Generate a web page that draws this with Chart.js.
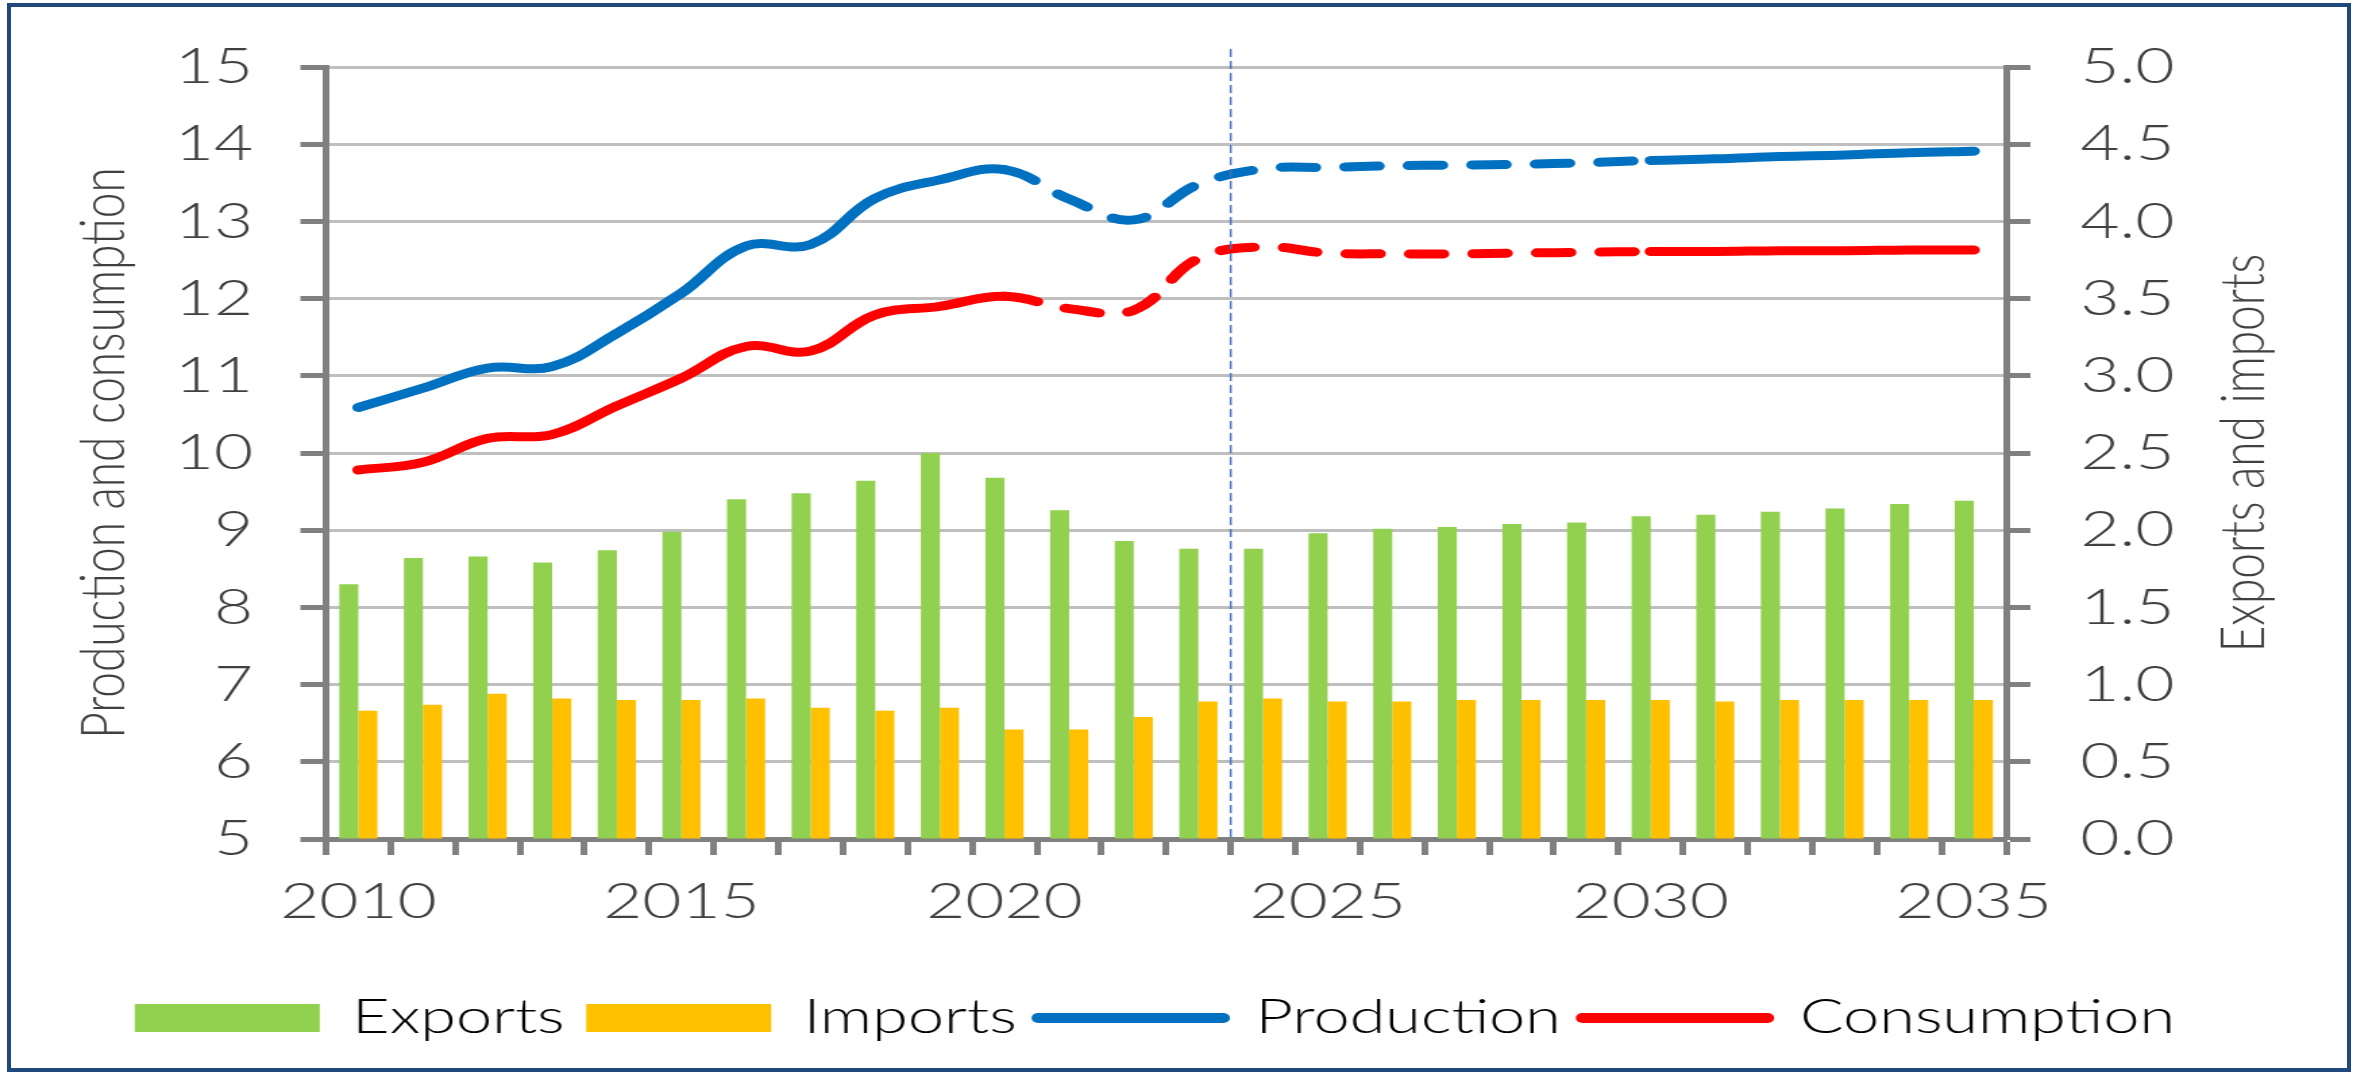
<!DOCTYPE html>
<html>
<head>
<meta charset="utf-8">
<title>Production, consumption, exports and imports</title>
<script src="https://cdn.jsdelivr.net/npm/chart.js@4.4.1/dist/chart.umd.min.js"></script>
<style>
  html, body { margin: 0; padding: 0; background: #fff; }
  body { width: 2361px; height: 1074px; position: relative; overflow: hidden; }
  /* the source picture is stretched sideways, so the chart is too */
  #wrap { position: absolute; left: 0; top: 0; width: 1749px; height: 1074px; transform: scaleX(1.35); transform-origin: 0 0; }
  #frame { position: absolute; left: 7px; top: 3px; width: 2344px; height: 1069px; box-sizing: border-box; border: 4px solid #1F497D; pointer-events: none; }
</style>
</head>
<body>
<div id="wrap"><canvas id="chart" width="1749" height="1074"></canvas></div>
<div id="frame"></div>
<script>
const years = ['2010', '2011', '2012', '2013', '2014', '2015', '2016', '2017', '2018', '2019',
  '2020', '2021', '2022', '2023', '2024', '2025', '2026', '2027', '2028', '2029',
  '2030', '2031', '2032', '2033', '2034', '2035'];

// right axis
const exportsVals = [1.65, 1.82, 1.83, 1.79, 1.87, 1.99, 2.20, 2.24, 2.32, 2.50,
  2.34, 2.13, 1.93, 1.88, 1.88, 1.98, 2.01, 2.02, 2.04, 2.05,
  2.09, 2.10, 2.12, 2.14, 2.17, 2.19];
const importsVals = [0.83, 0.87, 0.94, 0.91, 0.90, 0.90, 0.91, 0.85, 0.83, 0.85,
  0.71, 0.71, 0.79, 0.89, 0.91, 0.89, 0.89, 0.90, 0.90, 0.90,
  0.90, 0.89, 0.90, 0.90, 0.90, 0.90];

// left axis
const production = [10.59, 10.84, 11.10, 11.12, 11.55, 12.07, 12.68, 12.70, 13.30, 13.54,
  13.67, 13.29, 13.02, 13.48, 13.68, 13.70, 13.72, 13.73, 13.74, 13.76,
  13.79, 13.81, 13.84, 13.86, 13.89, 13.91];
const consumption = [9.78, 9.88, 10.19, 10.24, 10.61, 10.97, 11.38, 11.32, 11.79, 11.90,
  12.03, 11.87, 11.85, 12.52, 12.67, 12.59, 12.58, 12.58, 12.59, 12.60,
  12.61, 12.61, 12.62, 12.62, 12.63, 12.63];

const dashFrom = years.indexOf('2020');
const dashTo = years.indexOf('2030');
const forecastFrom = years.indexOf('2024');

const TEXT = '#404040';
const GREEN = '#92D050';
const YELLOW = '#FFC000';
const BLUE = '#0070C0';
const RED = '#FF0000';
const AXIS = '#808080';

Chart.defaults.font.family = "Lato, 'Open Sans', sans-serif";
Chart.defaults.font.weight = 300;
Chart.defaults.color = TEXT;

function dashed(ctx) {
  return (ctx.p0DataIndex >= dashFrom && ctx.p1DataIndex <= dashTo) ? [25, 22] : undefined;
}

function lineSet(label, data, color) {
  return {
    type: 'line',
    label,
    data,
    yAxisID: 'y',
    borderColor: color,
    backgroundColor: color,
    borderWidth: 9,
    borderCapStyle: 'round',
    borderJoinStyle: 'round',
    pointRadius: 0,
    tension: 0.4,
    fill: false,
    order: 0,
    segment: { borderDash: dashed },
  };
}

// forecast marker + right axis title (reads bottom to top, like the left one)
const extras = {
  id: 'extras',
  afterDatasetsDraw(chart) {
    const { ctx, chartArea, scales } = chart;
    const x = (scales.x.getPixelForValue(forecastFrom - 1) + scales.x.getPixelForValue(forecastFrom)) / 2;
    ctx.save();
    ctx.strokeStyle = '#4472C4';
    ctx.lineWidth = 1.5;
    ctx.setLineDash([8, 4]);
    ctx.beginPath();
    ctx.moveTo(x, chartArea.top - 18);
    ctx.lineTo(x, chartArea.bottom);
    ctx.stroke();
    ctx.restore();
  },
  afterDraw(chart) {
    const { ctx, chartArea } = chart;
    ctx.save();
    ctx.translate(chartArea.right + 176, (chartArea.top + chartArea.bottom) / 2);
    ctx.rotate(-Math.PI / 2);
    ctx.font = "300 46px Lato, 'Open Sans', sans-serif";
    ctx.fillStyle = TEXT;
    ctx.textAlign = 'center';
    ctx.textBaseline = 'middle';
    ctx.fillText('Exports and imports', 0, 0);
    ctx.restore();
  },
};

new Chart(document.getElementById('chart'), {
  type: 'bar',
  data: {
    labels: years,
    datasets: [
      { label: 'Exports', data: exportsVals, yAxisID: 'y1', backgroundColor: GREEN, categoryPercentage: 0.59, barPercentage: 1, order: 1 },
      { label: 'Imports', data: importsVals, yAxisID: 'y1', backgroundColor: YELLOW, categoryPercentage: 0.59, barPercentage: 1, order: 1 },
      lineSet('Production', production, BLUE),
      lineSet('Consumption', consumption, RED),
    ],
  },
  options: {
    responsive: false,
    devicePixelRatio: 1,
    animation: false,
    layout: { padding: { top: 65, left: 0, right: 38, bottom: 22 } },
    plugins: {
      tooltip: { enabled: false },
      legend: {
        position: 'bottom',
        labels: {
          usePointStyle: true,
          pointStyleWidth: 137,
          boxHeight: 28,
          padding: 16,
          color: TEXT,
          font: { size: 48 },
          generateLabels: () => [
            { text: 'Exports', fillStyle: GREEN, strokeStyle: GREEN, lineWidth: 0, pointStyle: 'rect', datasetIndex: 0 },
            { text: 'Imports', fillStyle: YELLOW, strokeStyle: YELLOW, lineWidth: 0, pointStyle: 'rect', datasetIndex: 1 },
            { text: 'Production', fillStyle: BLUE, strokeStyle: BLUE, lineWidth: 10, lineCap: 'round', pointStyle: 'line', datasetIndex: 2 },
            { text: 'Consumption', fillStyle: RED, strokeStyle: RED, lineWidth: 10, lineCap: 'round', pointStyle: 'line', datasetIndex: 3 },
          ],
        },
      },
    },
    scales: {
      x: {
        grid: { offset: true, drawOnChartArea: false, tickLength: 16, tickWidth: 5, tickColor: AXIS },
        border: { color: AXIS, width: 5 },
        ticks: {
          autoSkip: false,
          maxRotation: 0,
          padding: 17,
          font: { size: 50 },
          callback: (v, i) => (i % 5 === 0 ? years[i] : ''),
        },
        afterFit: (s) => { s.height = 139; },
      },
      y: {
        position: 'left',
        min: 5,
        max: 15,
        ticks: { stepSize: 1, padding: 35, font: { size: 50 } },
        grid: { color: '#BFBFBF', lineWidth: 3, tickColor: AXIS, tickWidth: 5, tickLength: 19 },
        border: { color: AXIS, width: 5 },
        title: {
          display: true,
          text: 'Production and consumption',
          font: { size: 46 },
          padding: { top: 50, bottom: 0 },
        },
        afterFit: (s) => { s.width = 241.5; },
      },
      y1: {
        position: 'right',
        min: 0,
        max: 5,
        ticks: { stepSize: 0.5, padding: 37, font: { size: 50 }, callback: (v) => v.toFixed(1) },
        grid: { drawOnChartArea: false, tickColor: AXIS, tickWidth: 5, tickLength: 18 },
        border: { color: AXIS, width: 5 },
        afterFit: (s) => { s.width = 225; },
      },
    },
  },
  plugins: [extras],
});
</script>
</body>
</html>
